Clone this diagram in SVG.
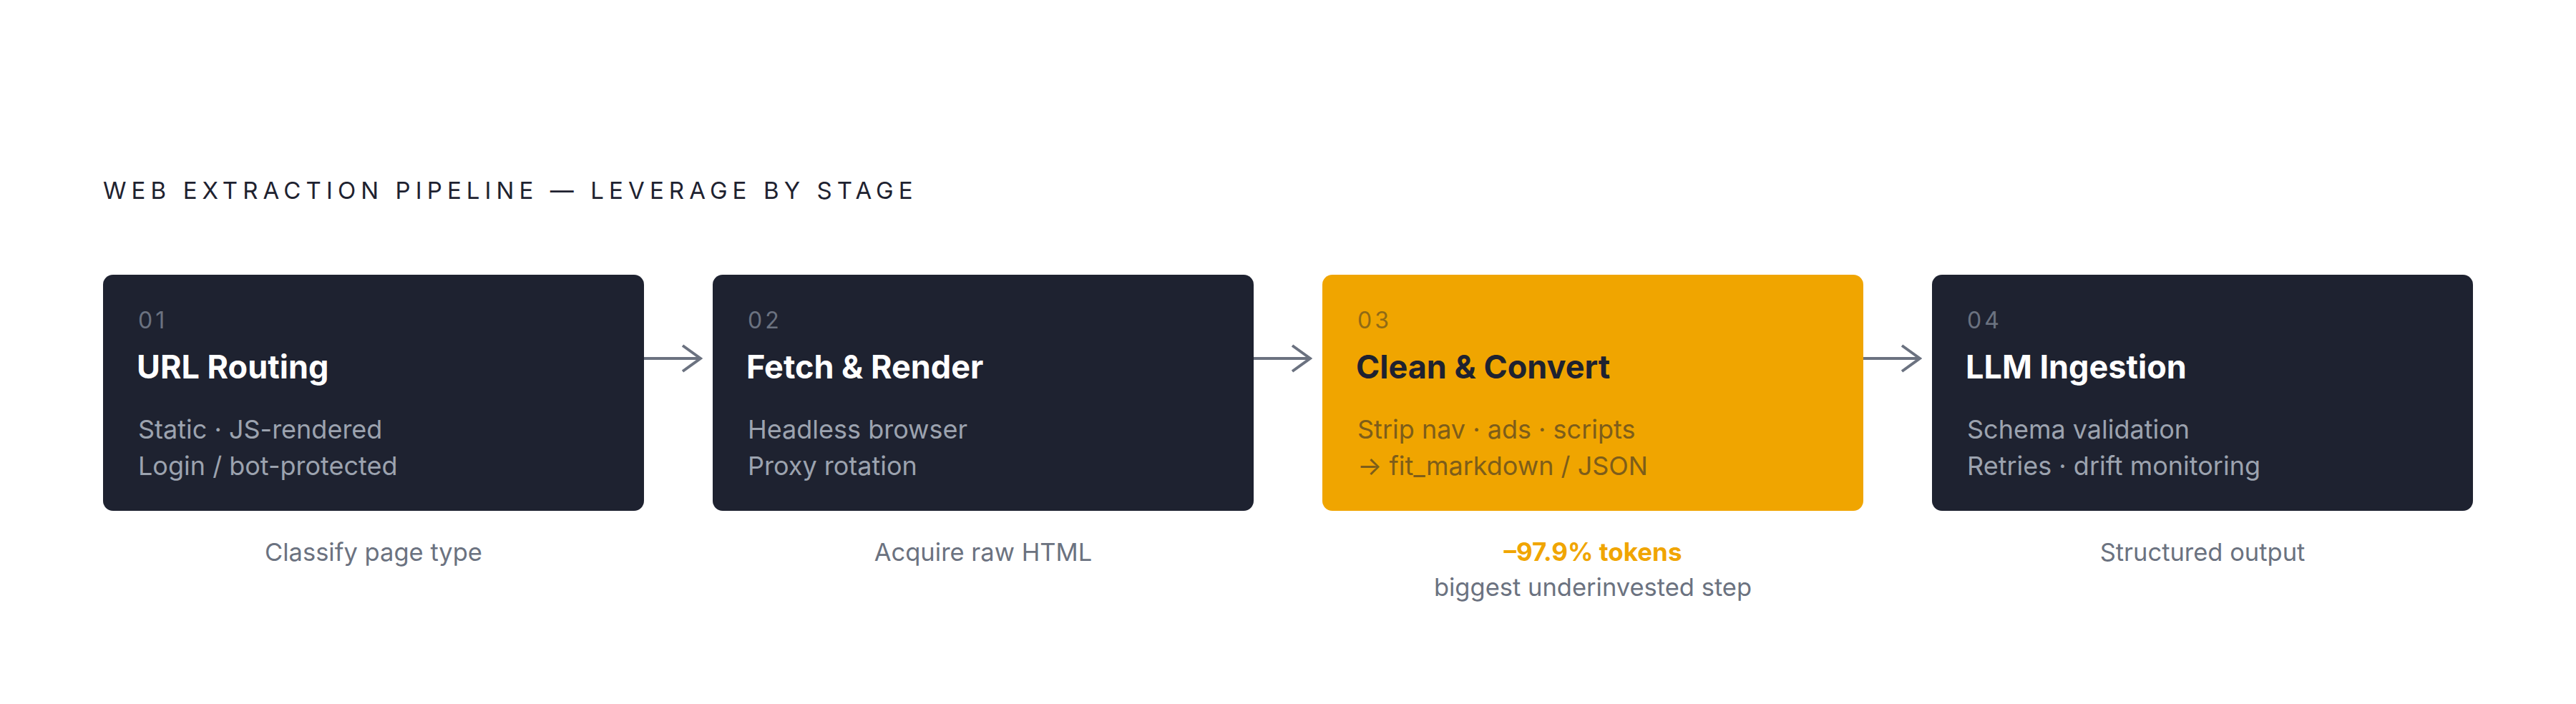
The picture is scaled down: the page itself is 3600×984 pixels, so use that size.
<svg xmlns="http://www.w3.org/2000/svg" width="3600" height="984" viewBox="0 0 3600 984">
<defs>
<style>
text{font-family:Inter,"Liberation Sans",sans-serif;}
.heading{font-size:33px;fill:#1e2230;letter-spacing:7.1px;}
.box{fill:#1e2230;}
.box.hl{fill:#f0a500;}
.num{font-size:32px;letter-spacing:4px;fill:#6b7280;}
.title{font-size:45px;font-weight:700;fill:#ffffff;}
.sub{font-size:36px;fill:#9ca3af;}
.hl .num{fill:#8f6a16;}
.hl .title{fill:#1e2230;}
.hl .sub{fill:#7d5d1a;}
.cap{font-size:34.5px;fill:#6b7280;text-anchor:middle;}
.capb{font-size:35px;font-weight:700;fill:#f0a500;text-anchor:middle;}
.conn{stroke:#6b7280;stroke-width:4;fill:none;}
</style>
<marker id="arr" viewBox="0 0 30 40" refX="27" refY="20" markerWidth="30" markerHeight="40" markerUnits="userSpaceOnUse" orient="auto">
<path d="M2,2 L27,20 L2,38" fill="none" stroke="#6b7280" stroke-width="4"/>
</marker>
</defs>
<rect width="3600" height="984" fill="#ffffff"/>
<text class="heading" x="144" y="278">WEB EXTRACTION PIPELINE — LEVERAGE BY STAGE</text>
<g id="connectors">
<line class="conn" x1="900" y1="501" x2="979" y2="501" marker-end="url(#arr)"/>
<line class="conn" x1="1752" y1="501" x2="1831" y2="501" marker-end="url(#arr)"/>
<line class="conn" x1="2604" y1="501" x2="2683" y2="501" marker-end="url(#arr)"/>
</g>
<g id="node1">
<rect class="box" x="144" y="384" width="756" height="330" rx="14"/>
<text class="num" x="193" y="459">01</text>
<text class="title" x="191" y="529">URL Routing</text>
<text class="sub" x="193" y="613">Static · JS-rendered</text>
<text class="sub" x="193" y="664">Login / bot-protected</text>
<text class="cap" x="522" y="784">Classify page type</text>
</g>
<g id="node2">
<rect class="box" x="996" y="384" width="756" height="330" rx="14"/>
<text class="num" x="1045" y="459">02</text>
<text class="title" x="1043" y="529">Fetch &amp; Render</text>
<text class="sub" x="1045" y="613">Headless browser</text>
<text class="sub" x="1045" y="664">Proxy rotation</text>
<text class="cap" x="1374" y="784">Acquire raw HTML</text>
</g>
<g id="node3" class="hl">
<rect class="box hl" x="1848" y="384" width="756" height="330" rx="14"/>
<text class="num" x="1897" y="459">03</text>
<text class="title" x="1895" y="529">Clean &amp; Convert</text>
<text class="sub" x="1897" y="613">Strip nav · ads · scripts</text>
<text class="sub" x="1897" y="664">→ fit_markdown / JSON</text>
<text class="capb" x="2226" y="784">–97.9% tokens</text>
<text class="cap" x="2226" y="833">biggest underinvested step</text>
</g>
<g id="node4">
<rect class="box" x="2700" y="384" width="756" height="330" rx="14"/>
<text class="num" x="2749" y="459">04</text>
<text class="title" x="2747" y="529">LLM Ingestion</text>
<text class="sub" x="2749" y="613">Schema validation</text>
<text class="sub" x="2749" y="664">Retries · drift monitoring</text>
<text class="cap" x="3078" y="784">Structured output</text>
</g>
</svg>
